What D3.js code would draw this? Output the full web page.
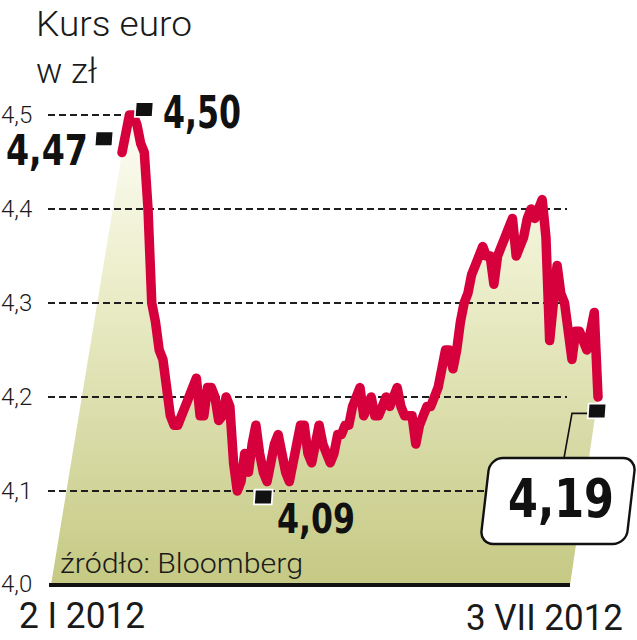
<!DOCTYPE html>
<html><head><meta charset="utf-8">
<script src="https://cdnjs.cloudflare.com/ajax/libs/d3/7.8.5/d3.min.js"></script>
<style>html,body{margin:0;padding:0;background:#fff;}svg{display:block;}</style>
</head><body>
<script>
// ---- data ----
const titleLines = ["Kurs euro", "w zł"];
const source = "źródło: Bloomberg";
const xTickLabels = ["2 I 2012", "3 VII 2012"];
const yTicks = [4.0, 4.1, 4.2, 4.3, 4.4, 4.5];
const yTickLabels = ["4,0", "4,1", "4,2", "4,3", "4,4", "4,5"];
const values = [
 4.46,4.48,4.50,4.50,4.49,4.47,4.46,4.40,4.30,4.28,
 4.25,4.24,4.21,4.18,4.17,4.17,4.18,4.19,4.20,4.21,
 4.22,4.18,4.18,4.21,4.21,4.20,4.175,4.18,4.20,4.19,
 4.13,4.10,4.11,4.14,4.12,4.15,4.17,4.14,4.12,4.11,
 4.13,4.15,4.16,4.14,4.12,4.11,4.13,4.15,4.17,4.17,
 4.14,4.13,4.15,4.17,4.15,4.14,4.13,4.14,4.16,4.16,
 4.17,4.17,4.19,4.20,4.21,4.18,4.19,4.20,4.18,4.18,
 4.19,4.20,4.19,4.20,4.21,4.19,4.18,4.18,4.18,4.15,
 4.17,4.18,4.19,4.19,4.20,4.21,4.23,4.25,4.25,4.23,
 4.25,4.28,4.30,4.31,4.33,4.34,4.35,4.36,4.35,4.35,
 4.32,4.35,4.36,4.37,4.38,4.39,4.35,4.36,4.37,4.39,
 4.40,4.39,4.40,4.41,4.37,4.26,4.30,4.34,4.31,4.30,
 4.27,4.24,4.27,4.27,4.26,4.25,4.27,4.29,4.20
];
const annoIndex = [0, 3, 31, 128];
const annoValues = [4.47, 4.50, 4.09, 4.19];
const annoLabels = ["4,47", "4,50", "4,09", "4,19"];

// ---- layout ----
const W = 637, H = 640;
const svg = d3.select("body").append("svg").attr("width", W).attr("height", H);

const x = d3.scaleLinear().domain([0, values.length - 1]).range([122, 598]);
const y = d3.scaleLinear().domain([4.0, 4.5]).range([585, 115]);
const frameLeft = 49, frameRight = 570, gridRight = 567;

const defs = svg.append("defs");
const grad = defs.append("linearGradient").attr("id", "fillg")
  .attr("x1", 0).attr("y1", 0).attr("x2", 0).attr("y2", 1);
grad.append("stop").attr("offset", "0%").attr("stop-color", "#fdfdf6");
grad.append("stop").attr("offset", "35%").attr("stop-color", "#eceecb");
grad.append("stop").attr("offset", "100%").attr("stop-color", "#c5c983");

const sans = "Roboto, 'Open Sans', sans-serif";
const bold = "'DejaVu Sans Condensed', 'DejaVu Sans', sans-serif";

// title
svg.append("text").attr("x", 36).attr("y", 36).text(titleLines[0])
  .attr("font-family", sans).attr("font-weight", 300).attr("font-size", 35).attr("fill", "#1a1a1a")
  .attr("textLength", 156).attr("lengthAdjust", "spacingAndGlyphs");
svg.append("text").attr("x", 36).attr("y", 83).text(titleLines[1])
  .attr("font-family", sans).attr("font-weight", 300).attr("font-size", 35).attr("fill", "#1a1a1a");

// area
const pts = values.map((v, i) => [x(i), y(v)]);
const lineGen = d3.line();
const areaPath = lineGen(pts) + "L" + frameRight + "," + y(4.0) + "L" + (frameLeft + 2) + "," + y(4.0) + "Z";
svg.append("path").attr("d", areaPath).attr("fill", "url(#fillg)");

// gridlines
yTicks.forEach((t, i) => {
  if (t === 4.0) return;
  const xEnd = t === 4.5 ? 130 : gridRight;
  svg.append("line").attr("x1", 48).attr("x2", xEnd).attr("y1", y(t)).attr("y2", y(t))
    .attr("stroke", "#1e1e1e").attr("stroke-width", 2).attr("stroke-dasharray", "7,4");
});
// y labels
yTicks.forEach((t, i) => {
  svg.append("text").attr("x", 1).attr("y", y(t) + (t === 4.0 ? 7 : 8)).text(yTickLabels[i])
    .attr("font-family", sans).attr("font-weight", 300).attr("font-size", 24).attr("fill", "#1a1a1a");
});

// baseline
svg.append("line").attr("x1", frameLeft).attr("x2", frameRight).attr("y1", y(4.0)).attr("y2", y(4.0))
  .attr("stroke", "#111").attr("stroke-width", 4);

// source
svg.append("text").attr("x", 60).attr("y", 573).text(source)
  .attr("font-family", sans).attr("font-weight", 300).attr("font-size", 28).attr("fill", "#1a1a1a")
  .attr("textLength", 243).attr("lengthAdjust", "spacingAndGlyphs");

// x labels
svg.append("text").attr("x", 19).attr("y", 628).text(xTickLabels[0])
  .attr("font-family", sans).attr("font-weight", 400).attr("font-size", 36).attr("fill", "#1a1a1a")
  .attr("textLength", 126).attr("lengthAdjust", "spacingAndGlyphs");
svg.append("text").attr("x", 466).attr("y", 630).text(xTickLabels[1])
  .attr("font-family", sans).attr("font-weight", 400).attr("font-size", 36).attr("fill", "#1a1a1a")
  .attr("textLength", 157).attr("lengthAdjust", "spacingAndGlyphs");

// line
svg.append("path").attr("d", lineGen(pts)).attr("fill", "none")
  .attr("stroke", "#d6003d").attr("stroke-width", 9.5)
  .attr("stroke-linejoin", "round").attr("stroke-linecap", "round");

// 4,19 box
const bx = 558, by = 501;
const boxG = svg.append("g").attr("transform", `translate(${bx},${by}) skewX(-6.6)`);
boxG.append("rect").attr("x", -73).attr("y", -43).attr("width", 146).attr("height", 86)
  .attr("rx", 13).attr("fill", "#fff").attr("stroke", "#111").attr("stroke-width", 2.4);

// leader line
const mEnd = [x(annoIndex[3]) - 1, y(annoValues[3]) + 7];
svg.append("path").attr("d", `M${mEnd[0]},${mEnd[1]}L572,${mEnd[1]}L564,458`)
  .attr("fill", "none").attr("stroke", "#111").attr("stroke-width", 1.6);

// markers
const markerOffsets = [[-18, -4], [11, -5], [26, -3], [-1, 5]];
const markerBorder = [false, true, true, true];
annoIndex.forEach((idx, k) => {
  const cx = x(idx) + markerOffsets[k][0], cy = y(annoValues[k]) + markerOffsets[k][1];
  svg.append("rect").attr("x", cx - 8).attr("y", cy - 7).attr("width", 16).attr("height", 13)
    .attr("transform", `skewX(-4)`).attr("transform-origin", `${cx} ${cy}`)
    .attr("fill", "#111")
    .attr("stroke", markerBorder[k] ? "#fff" : "none").attr("stroke-width", 3.5)
    .attr("paint-order", "stroke");
});

// labels
const labelPos = [[6, 165, 42, 82], [163, 128, 44, 78], [277, 533, 41, 78], [508, 517, 53, 106]];
annoLabels.forEach((lab, k) => {
  const p = labelPos[k];
  svg.append("text").attr("x", p[0]).attr("y", p[1]).text(lab)
    .attr("font-family", bold).attr("font-weight", 700).attr("font-size", p[2])
    .attr("fill", "#111").attr("textLength", p[3]).attr("lengthAdjust", "spacingAndGlyphs");
});
</script>
</body></html>
